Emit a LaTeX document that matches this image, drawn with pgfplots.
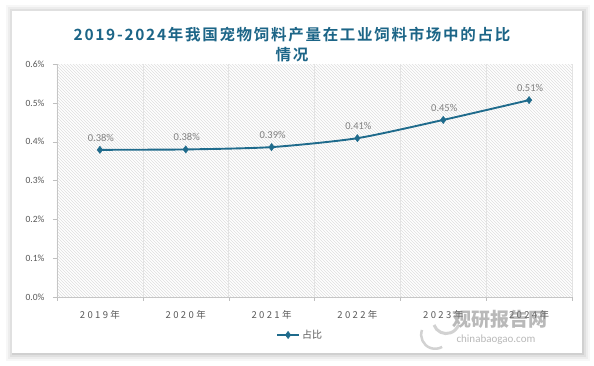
\documentclass[border=0pt]{standalone}
\usepackage{fontspec}
\setmainfont{Carlito}
\newfontfamily\cjk{Noto Sans CJK SC}
\newfontfamily\cjkx[LetterSpace=25]{Noto Sans CJK SC}
\newfontfamily\cjkt[LetterSpace=11]{Noto Sans CJK SC Bold}
\usepackage{pgfplots}
\pgfplotsset{compat=1.18}
\usetikzlibrary{patterns}
\pgfdeclarelayer{background}
\pgfsetlayers{background,main}
\definecolor{linec}{HTML}{1F6B8C}
\definecolor{titlec}{HTML}{1C6587}
\definecolor{labc}{HTML}{808080}
\definecolor{tickc}{HTML}{595959}
\begin{document}
\begin{tikzpicture}
\begin{axis}[
  name=ax,
  scale only axis, width=515pt, height=233pt,
  xmin=-0.5, xmax=5.5, ymin=0, ymax=0.6,
  axis lines=left, axis line style={-, gray!45},
  axis background/.style={pattern=north west lines, pattern color=gray!25},
  xtick={0,...,5},
  xticklabels={2019年,2020年,2021年,2022年,2023年,2024年},
  xticklabel style={font=\cjkx\fontsize{9.5}{10}\selectfont, text=tickc, yshift=-6pt},
  minor xtick={-0.5,0.5,...,5.5},
  major x tick style={draw=none},
  minor x tick style={gray!50},
  minor tick length=4pt,
  xminorgrids=true,
  minor grid style={gray!22},
  ytick={0,0.1,...,0.6},
  yticklabels={0.0\%,0.1\%,0.2\%,0.3\%,0.4\%,0.5\%,0.6\%},
  yticklabel style={font=\fontsize{9.5}{10}\selectfont, text=tickc, xshift=-5pt},
  major y tick style={gray!50},
  major tick length=4pt,
  tick align=outside,
  legend style={at={(0.472,-0.163)}, anchor=center, draw=none, fill=none,
    font=\cjk\fontsize{10}{11}\selectfont, text=tickc, legend columns=1},
  legend image code/.code={\draw[#1] (0,0) -- (22pt,0) plot coordinates {(11pt,0)};},
  clip=false,
]
\coordinate (o) at (rel axis cs:0,0);
\addplot[linec, line width=1.9pt, smooth, tension=0.4, mark=diamond*, mark size=3.6pt,
  mark options={fill=linec, line width=0.5pt},
  nodes near coords, point meta=explicit symbolic,
  every node near coord/.style={font=\fontsize{10.5}{11}\selectfont, text=labc, anchor=south, yshift=5pt, xshift=1pt}]
coordinates {(0,0.379)[0.38\%] (1,0.380)[0.38\%] (2,0.386)[0.39\%] (3,0.409)[0.41\%] (4,0.456)[0.45\%] (5,0.507)[0.51\%]};
\addlegendentry{占比}
\end{axis}
\begin{scope}[shift={(o)}, x=1pt, y=1pt]
\useasboundingbox (-57,-69) rectangle (537,297);
\begin{pgfonlayer}{background}
\fill[white] (-57,-69) rectangle (537,297);
\foreach \d/\o in {8/0.03,6/0.04,4/0.05,2/0.07}{
  \fill[black,opacity=\o] (-45-\d+2,-56-\d) rectangle (525+\d,286+\d-2);
}
\fill[white] (-45,-56) rectangle (525,286);
\end{pgfonlayer}
\node[font=\cjkt\fontsize{15.5}{20}\selectfont, text=titlec, align=center] at (235,252) {2019-2024年我国宠物饲料产量在工业饲料市场中的占比\\情况};
\node[font=\cjk\bfseries\fontsize{19}{20}\selectfont, text=gray, opacity=0.55, anchor=west] at (392,-22) {观研报告网};
\node[font=\fontsize{11}{12}\selectfont, text=gray, opacity=0.55, anchor=west] at (396,-43) {chinabaogao.com};
\draw[gray, opacity=0.35, line width=3pt] (377,-28) arc (200:340:13);
\draw[gray, opacity=0.35, line width=2.5pt] (365,-33) arc (160:300:14);
\end{scope}
\end{tikzpicture}
\end{document}
